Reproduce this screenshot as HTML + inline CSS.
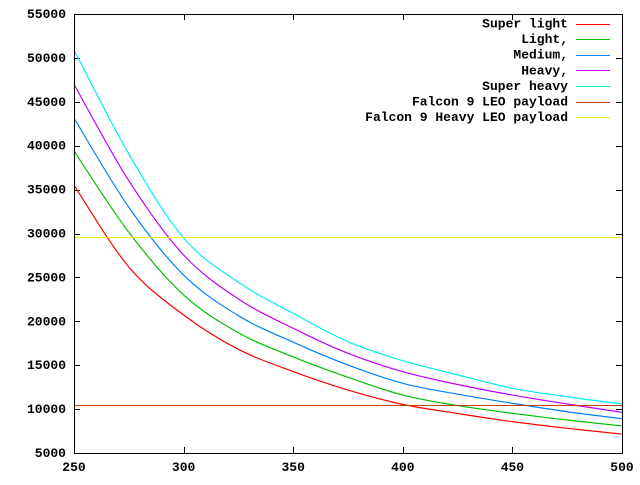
<!DOCTYPE html>
<html><head><meta charset="utf-8"><style>
body{margin:0;background:#fff}
text{font-family:"Liberation Mono",monospace;font-weight:bold;font-size:13px;fill:#000}
line{shape-rendering:crispEdges}
</style></head><body>
<svg id="chart" width="640" height="480" xmlns="http://www.w3.org/2000/svg">
<g id="grid"></g><g id="series"></g><g id="legend"></g>
<rect x="74.5" y="14.5" width="548" height="439" fill="none" stroke="#000" stroke-width="1" shape-rendering="crispEdges"/>
</svg>
<script>
const xValues=[250,275,300,325,350,375,400,425,450,475,500];
const superLight=[35500,26190,20720,16810,14280,12170,10540,9500,8570,7810,7160];
const light=[39400,30140,23000,18700,15940,13620,11600,10400,9520,8760,8080];
const medium=[43150,32990,25270,20640,17620,15020,12940,11700,10660,9700,8910];
const heavy=[47000,36010,27550,22540,19200,16350,14260,12800,11600,10580,9640];
const superHeavy=[50900,39060,29500,24440,20900,17680,15510,13900,12370,11410,10580];
const falcon9=10450;
const falconHeavy=29600;
const xTicks=[250,300,350,400,450,500];
const yTicks=[5000,10000,15000,20000,25000,30000,35000,40000,45000,50000,55000];
const legendLabels=["Super light","Light,","Medium,","Heavy,","Super heavy","Falcon 9 LEO payload","Falcon 9 Heavy LEO payload"];
const colors=["#ff0000","#00c000","#0080ff","#c000ff","#00eeee","#c04000","#eeee00"];
const NS="http://www.w3.org/2000/svg";
const X=v=>74+(v-250)/250*548;
const Y=v=>453-(v-5000)/50000*439;
function mk(t,a,p){const e=document.createElementNS(NS,t);for(const k in a)e.setAttribute(k,a[k]);p.appendChild(e);return e;}
const grid=document.getElementById('grid');
xTicks.forEach(v=>{
  const x=Math.round(X(v))+0.5;
  const t1=mk('line',{x1:x,x2:x,y1:453,y2:447,stroke:'#000'},grid);
  
  
  const t2=mk('line',{x1:x,x2:x,y1:14,y2:20,stroke:'#000'},grid);
  
  
  const tx=mk('text',{x:X(v),y:471,'text-anchor':'middle'},grid);tx.textContent=v;
  
  
});
yTicks.forEach(v=>{
  const y=Math.round(Y(v))+0.5;
  const t1=mk('line',{x1:74,x2:80,y1:y,y2:y,stroke:'#000'},grid);
  
  
  const t2=mk('line',{x1:616,x2:622,y1:y,y2:y,stroke:'#000'},grid);
  
  
  const tx=mk('text',{x:66,y:Y(v)+4,'text-anchor':'end'},grid);tx.textContent=v;
  
  
});
const ser=document.getElementById('series');
const names=['super-light','light','medium','heavy','super-heavy'];
[superLight,light,medium,heavy,superHeavy].forEach((arr,i)=>{
  const pts=arr.map((v,j)=>[X(xValues[j]),Y(v)]);
  let d='M'+pts[0][0]+','+pts[0][1];
  for(let j=0;j<pts.length-1;j++){
    const p0=pts[Math.max(0,j-1)],p1=pts[j],p2=pts[j+1],p3=pts[Math.min(pts.length-1,j+2)];
    d+=' C'+(p1[0]+(p2[0]-p0[0])/6)+','+(p1[1]+(p2[1]-p0[1])/6)+' '+(p2[0]-(p3[0]-p1[0])/6)+','+(p2[1]-(p3[1]-p1[1])/6)+' '+p2[0]+','+p2[1];
  }
  const p=mk('path',{d:d,fill:'none',stroke:colors[i],'stroke-width':1.2},ser);
  
  
});
[[falcon9,5,'falcon-9-line'],[falconHeavy,6,'falcon-heavy-line']].forEach(([v,c,n])=>{
  const y=Math.round(Y(v))+0.5;
  const l=mk('line',{x1:74,x2:622,y1:y,y2:y,stroke:colors[c]},ser);
  
  
});
const leg=document.getElementById('legend');
legendLabels.forEach((s,i)=>{
  const y=23.5+i*15.6;
  const t=mk('text',{x:568,y:y+4,'text-anchor':'end'},leg);t.textContent=s;
  
  
  const l=mk('line',{x1:576,x2:610,y1:Math.round(y)+0.5,y2:Math.round(y)+0.5,stroke:colors[i]},leg);
  
  
});
</script>
</body></html>
